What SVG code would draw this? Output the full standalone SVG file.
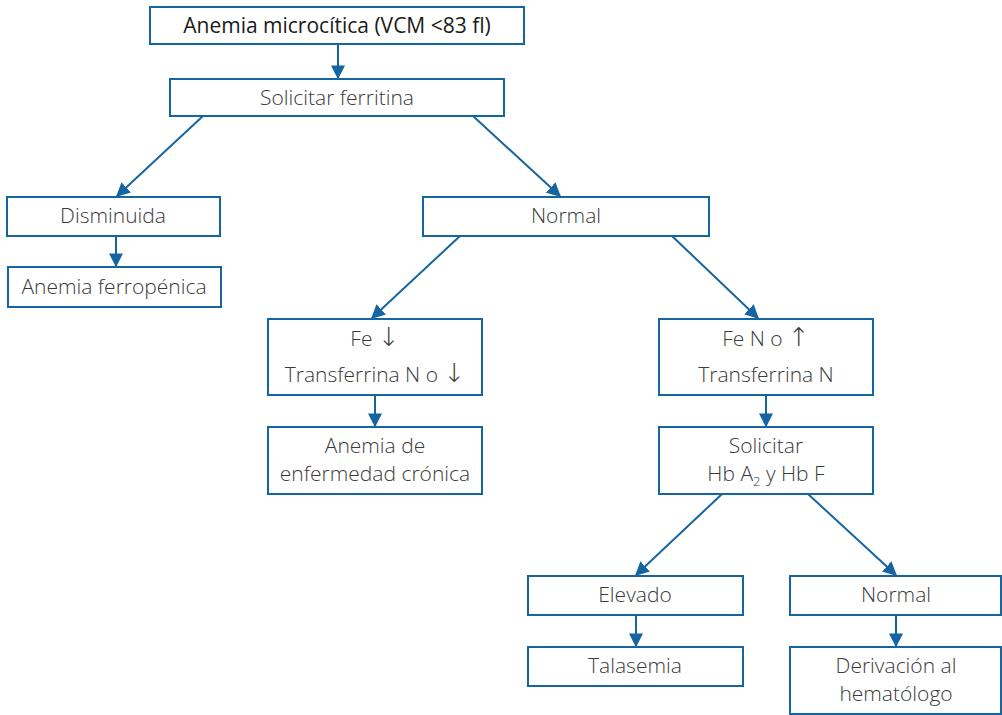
<svg xmlns="http://www.w3.org/2000/svg" width="1002" height="715" viewBox="0 0 1002 715">
<style>
.b{fill:#fff;stroke:#1565a3;stroke-width:2}
.t{font-family:"Open Sans","Noto Sans","Liberation Sans",sans-serif;font-size:21px;fill:#3a3a3a;text-anchor:middle;font-weight:300}
.h{font-weight:500;fill:#1a1a1a}
.ar{font-family:"DejaVu Sans",sans-serif;font-size:26px;font-weight:200;fill:#3a3a3a}
.c line{stroke:#1565a3;stroke-width:2;marker-end:url(#m)}
</style>
<defs>
<marker id="m" viewBox="0 0 10 10" refX="9" refY="5" markerWidth="7" markerHeight="7" orient="auto"><path d="M0,0 L10,5 L0,10 z" fill="#1565a3"/></marker>
</defs>
<rect width="1002" height="715" fill="#fff"/>
<g class="c">
<line x1="338" y1="44" x2="338" y2="78"/>
<line x1="203" y1="116" x2="117" y2="196"/>
<line x1="473" y1="116" x2="560" y2="196"/>
<line x1="116" y1="236" x2="116" y2="266"/>
<line x1="460" y1="236" x2="372" y2="318"/>
<line x1="672" y1="236" x2="758" y2="318"/>
<line x1="375" y1="395" x2="375" y2="426"/>
<line x1="766" y1="395" x2="766" y2="426"/>
<line x1="722" y1="494" x2="636" y2="575"/>
<line x1="808" y1="494" x2="896" y2="575"/>
<line x1="636" y1="615" x2="636" y2="646"/>
<line x1="896" y1="615" x2="896" y2="646"/>
</g>
<g id="n1"><rect class="b" x="150" y="7" width="374" height="37"/><text class="t h" x="337" y="33">Anemia microcítica (VCM &lt;83 fl)</text></g>
<g id="n2"><rect class="b" x="170" y="79" width="334" height="37"/><text class="t" x="337" y="105">Solicitar ferritina</text></g>
<g id="n3"><rect class="b" x="7" y="197" width="213" height="39"/><text class="t" x="113" y="223">Disminuida</text></g>
<g id="n4"><rect class="b" x="8" y="267" width="213" height="40"/><text class="t" x="114" y="294">Anemia ferropénica</text></g>
<g id="n5"><rect class="b" x="423" y="197" width="286" height="39"/><text class="t" x="566" y="223">Normal</text></g>
<g id="n6"><rect class="b" x="268" y="319" width="214" height="76"/><text class="t" x="375" y="346">Fe <tspan class="ar">↓</tspan></text><text class="t" x="375" y="382">Transferrina N o <tspan class="ar">↓</tspan></text></g>
<g id="n7"><rect class="b" x="268" y="427" width="214" height="67"/><text class="t" x="375" y="453">Anemia de</text><text class="t" x="375" y="481">enfermedad crónica</text></g>
<g id="n8"><rect class="b" x="659" y="319" width="214" height="76"/><text class="t" x="766" y="346">Fe N o <tspan class="ar">↑</tspan></text><text class="t" x="766" y="382">Transferrina N</text></g>
<g id="n9"><rect class="b" x="659" y="427" width="214" height="67"/><text class="t" x="766" y="453">Solicitar</text><text class="t" x="766" y="481">Hb A<tspan font-size="13" dy="5">2</tspan><tspan dy="-5"> y Hb F</tspan></text></g>
<g id="n10"><rect class="b" x="528" y="576" width="215" height="39"/><text class="t" x="635" y="602">Elevado</text></g>
<g id="n11"><rect class="b" x="528" y="647" width="215" height="39"/><text class="t" x="635" y="673">Talasemia</text></g>
<g id="n12"><rect class="b" x="790" y="576" width="211" height="39"/><text class="t" x="896" y="602">Normal</text></g>
<g id="n13"><rect class="b" x="790" y="647" width="211" height="67"/><text class="t" x="896" y="673">Derivación al</text><text class="t" x="896" y="701">hematólogo</text></g>
</svg>
